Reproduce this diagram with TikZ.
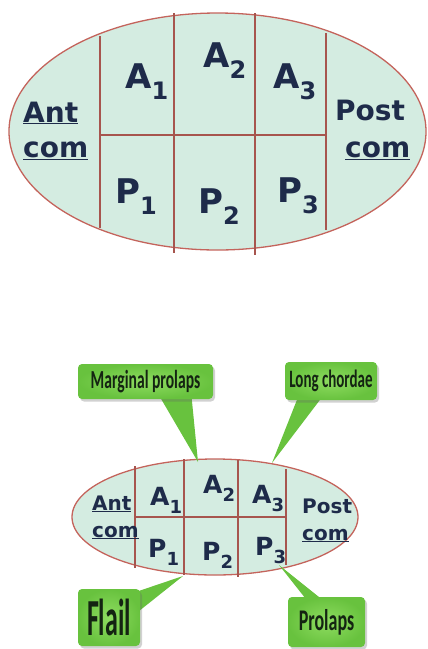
\documentclass[tikz,border=0pt]{standalone}
\usepackage{fontspec}
\setmainfont{DejaVu Sans}
\newfontfamily\calloutfont[FakeStretch=0.6]{Carlito}
\newfontfamily\flailfont[FakeStretch=0.5]{Carlito}
\usetikzlibrary{shadows}
\pgfdeclarelayer{pointers}
\pgfdeclarelayer{boxes}
\pgfsetlayers{main,pointers,boxes}
\definecolor{leaflet}{HTML}{D4ECE1}
\definecolor{rim}{HTML}{C4645C}
\definecolor{ink}{HTML}{1E2B4A}
\definecolor{callgreen}{HTML}{68C23E}
\definecolor{callgreenlight}{HTML}{8EDC60}
\definecolor{callink}{HTML}{142412}
% scallop label: letter with a large lowered index
\newcommand\scallop[3]{#2\raisebox{-0.34em}{\fontsize{#1}{#1}\selectfont #3}}
\tikzset{
  valve/.style={draw=rim, line width=1.3pt, fill=leaflet},
  divider/.style={draw=rim!85!black, line width=1.1pt},
  seglabel/.style={anchor=base west, inner sep=0pt, text=ink},
  bigseg/.style={seglabel, font=\fontsize{34}{34}\selectfont\bfseries},
  bigcom/.style={seglabel, font=\fontsize{28}{28}\selectfont\bfseries},
  smallseg/.style={seglabel, font=\fontsize{25}{25}\selectfont\bfseries},
  smallcom/.style={seglabel, font=\fontsize{20}{20}\selectfont\bfseries},
  callout/.style={rounded corners=4pt, inner color=callgreenlight, outer color=callgreen,
    text=callink, inner sep=0pt,
    drop shadow={shadow xshift=2pt, shadow yshift=-2.5pt, opacity=0.3, fill=black!60}},
  pointer/.style={fill=callgreen}
}
\begin{document}
\begin{tikzpicture}[x=1pt, y=-1pt]
\useasboundingbox (0,0) rectangle (428,649);

% ---- upper valve map ----
\draw[valve] (217.5,131.5) ellipse [x radius=208.5, y radius=118.5];
\draw[divider] (100,36) -- (100,228);
\draw[divider] (174,13) -- (174,253);
\draw[divider] (255,13) -- (255,255);
\draw[divider] (326,33) -- (326,230);
\draw[divider] (100,135) -- (326,135);

\node[bigseg] (A1) at (125,88) {\scallop{24}{A}{1}};
\node[bigseg] (A2) at (203,67) {\scallop{24}{A}{2}};
\node[bigseg] (A3) at (273,88) {\scallop{24}{A}{3}};
\node[bigseg] (P1) at (115,203) {\scallop{24}{P}{1}};
\node[bigseg] (P2) at (198,213) {\scallop{24}{P}{2}};
\node[bigseg] (P3) at (277,202) {\scallop{24}{P}{3}};
\node[bigcom] (antU) at (23,122) {\underline{Ant}};
\node[bigcom] (antL) at (23,157) {\underline{com}};
\node[bigcom] (postU) at (335,120) {Post};
\node[bigcom] (postL) at (345,157) {\underline{com}};

% ---- lower valve map ----
\draw[valve] (215,517) ellipse [x radius=143, y radius=58];
\draw[divider] (135,466) -- (135,568);
\draw[divider] (184,459) -- (184,575);
\draw[divider] (238,460) -- (238,577);
\draw[divider] (286,469) -- (286,565);
\draw[divider] (134,517) -- (286,517);

\node[smallseg] (a1) at (150,505) {\scallop{18}{A}{1}};
\node[smallseg] (a2) at (203,493) {\scallop{18}{A}{2}};
\node[smallseg] (a3) at (252,503) {\scallop{18}{A}{3}};
\node[smallseg] (p1) at (148,557) {\scallop{18}{P}{1}};
\node[smallseg] (p2) at (202,560) {\scallop{18}{P}{2}};
\node[smallseg] (p3) at (255,555) {\scallop{18}{P}{3}};
\node[smallcom] (antu) at (92,510) {\underline{Ant}};
\node[smallcom] (antl) at (92,537) {\underline{com}};
\node[smallcom] (postu) at (302,513) {Post};
\node[smallcom] (postl) at (302,540) {\underline{com}};

% ---- callouts ----
\coordinate (tipM) at (198,462);
\coordinate (tipL) at (272,463);
\coordinate (tipF) at (183,576);
\coordinate (tipP) at (279,565);

\begin{pgfonlayer}{boxes}
\node[callout, minimum width=135pt, minimum height=35pt,
      font=\calloutfont\bfseries\fontsize{26}{26}\selectfont] (mp) at (145.5,381.5) {Marginal prolaps};
\node[callout, minimum width=92pt, minimum height=38pt,
      font=\calloutfont\bfseries\fontsize{25}{25}\selectfont] (lc) at (331,381) {Long chordae};
\node[callout, minimum width=62pt, minimum height=57pt,
      font=\flailfont\bfseries\fontsize{52}{52}\selectfont] (fl) at (109,617.5) {Flail};
\node[callout, minimum width=77pt, minimum height=50pt,
      font=\calloutfont\bfseries\fontsize{30}{30}\selectfont] (pr) at (326.5,622) {Prolaps};
\end{pgfonlayer}

\begin{pgfonlayer}{pointers}
\fill[pointer] ([xshift=14pt,yshift=3pt]mp.south) -- (tipM) -- ([xshift=46pt,yshift=3pt]mp.south) -- cycle;
\fill[pointer] ([xshift=-33pt,yshift=3pt]lc.south) -- (tipL) -- ([xshift=-9pt,yshift=3pt]lc.south) -- cycle;
\fill[pointer] ([xshift=-3pt,yshift=26pt]fl.east) -- (tipF) -- ([xshift=-3pt,yshift=5pt]fl.east) -- cycle;
\fill[pointer] ([xshift=-20pt,yshift=-3pt]pr.north) -- (tipP) -- ([xshift=-4pt,yshift=-3pt]pr.north) -- cycle;
\end{pgfonlayer}
\end{tikzpicture}
\end{document}
